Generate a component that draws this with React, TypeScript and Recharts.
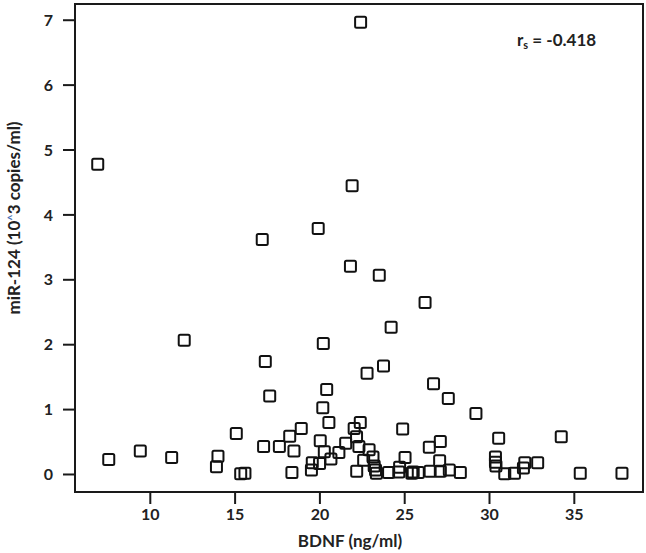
import React from "react";
import { ScatterChart, Scatter, XAxis, YAxis, ReferenceArea, Customized } from "recharts";

const bdnf: number[] = [
  6.9, 22.4, 21.9, 19.9, 16.6, 21.8, 23.5, 26.2, 24.2, 12.0, 20.2, 16.78, 23.75, 22.78, 26.7, 20.4, 17.04, 27.57, 20.17, 29.2, 22.38, 20.53,
  7.55, 9.41, 11.26, 13.99, 13.9, 15.07, 15.33, 15.58, 16.68, 17.61, 18.22, 18.47, 18.9, 18.35, 19.55, 19.5, 19.98, 20.02, 20.26, 20.65,
  21.12, 21.52, 22.02, 22.16, 22.3, 22.9, 22.58, 23.13, 23.2, 23.28, 23.33, 22.17, 24.05, 24.65, 24.7, 24.88, 25.02, 25.42, 25.5, 25.8,
  26.45, 27.1, 26.5, 27.06, 27.1, 27.63, 28.28, 30.54, 30.35, 30.35, 30.38, 30.9, 31.47, 32.0, 32.08, 32.84, 34.23, 35.35, 37.81,
];
const mir124: number[] = [
  4.78, 6.97, 4.45, 3.79, 3.62, 3.21, 3.07, 2.65, 2.27, 2.07, 2.02, 1.74, 1.67, 1.56, 1.4, 1.31, 1.21, 1.17, 1.03, 0.94, 0.8, 0.8,
  0.23, 0.36, 0.26, 0.28, 0.12, 0.63, 0.01, 0.02, 0.43, 0.43, 0.59, 0.36, 0.71, 0.03, 0.18, 0.07, 0.17, 0.52, 0.35, 0.24,
  0.34, 0.48, 0.71, 0.58, 0.43, 0.38, 0.22, 0.27, 0.13, 0.07, 0.02, 0.05, 0.03, 0.04, 0.11, 0.7, 0.26, 0.02, 0.04, 0.03,
  0.42, 0.51, 0.05, 0.21, 0.05, 0.07, 0.03, 0.56, 0.27, 0.19, 0.13, 0.01, 0.02, 0.1, 0.18, 0.18, 0.58, 0.02, 0.02,
];
const xTicks: number[] = [10, 15, 20, 25, 30, 35];
const yTicks: number[] = [0, 1, 2, 3, 4, 5, 6, 7];

const points = bdnf.map((x, i) => ({ x, y: mir124[i] }));

const FONT = "Lato, 'Open Sans', sans-serif";
const X_DOMAIN: [number, number] = [5.56, 39.05];
const Y_DOMAIN: [number, number] = [-0.27, 7.25];

const SquareMarker = (props: any) => {
  const { cx, cy } = props;
  if (cx == null || cy == null) return null;
  return (
    <rect x={cx - 5.5} y={cy - 5.5} width={11} height={11} rx={1.5} fill="none" stroke="#111" strokeWidth={2} />
  );
};

const Texts = () => (
  <g fontFamily={FONT} fontWeight={700} fill="#222">
    <text x={350} y={547} textAnchor="middle" fontSize={17}>BDNF (ng/ml)</text>
    <text transform="translate(20,218) rotate(-90)" textAnchor="middle" fontSize={17}>
      miR-124 (10<tspan fill="#4a72b8" fontSize={11} dy={-4}>^</tspan><tspan dy={4}>3 copies/ml)</tspan>
    </text>
    <text x={517} y={46} fontSize={17}>
      r<tspan fontSize={11} dy={3}>s</tspan><tspan dy={-3}> = -0.418</tspan>
    </text>
  </g>
);

export default function App() {
  return (
    <div style={{ position: "absolute", left: 0, top: 0, background: "#fff" }}>
      <ScatterChart width={646} height={553} margin={{ top: 4, right: 3, left: 0, bottom: 0 }}>
        <XAxis
          type="number"
          dataKey="x"
          domain={X_DOMAIN}
          ticks={xTicks}
          allowDataOverflow
          height={61}
          tickSize={12}
          tickMargin={5}
          axisLine={{ stroke: "#1a1a1a", strokeWidth: 2 }}
          tickLine={{ stroke: "#1a1a1a", strokeWidth: 2 }}
          tick={{ fill: "#222", fontSize: 16, fontWeight: 700, fontFamily: FONT }}
        />
        <YAxis
          type="number"
          dataKey="y"
          domain={Y_DOMAIN}
          ticks={yTicks}
          allowDataOverflow
          width={75}
          tickSize={12}
          tickMargin={10}
          axisLine={{ stroke: "#1a1a1a", strokeWidth: 2 }}
          tickLine={{ stroke: "#1a1a1a", strokeWidth: 2 }}
          tick={{ fill: "#222", fontSize: 16, fontWeight: 700, fontFamily: FONT }}
        />
        <ReferenceArea
          x1={X_DOMAIN[0]}
          x2={X_DOMAIN[1]}
          y1={Y_DOMAIN[0]}
          y2={Y_DOMAIN[1]}
          fill="none"
          stroke="#1a1a1a"
          strokeWidth={2}
          ifOverflow="visible"
        />
        <Scatter data={points} shape={SquareMarker} isAnimationActive={false} />
        <Customized component={Texts} />
      </ScatterChart>
    </div>
  );
}
